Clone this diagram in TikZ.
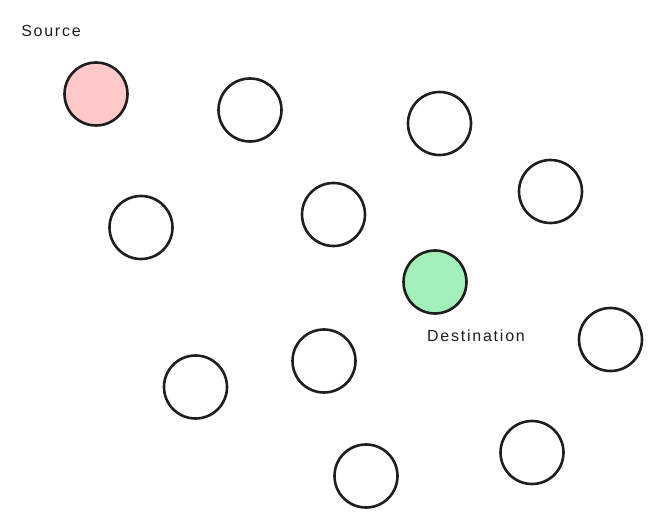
\documentclass[tikz,border=0pt]{standalone}
\usepackage{fontspec}
\setmainfont{Liberation Sans}[LetterSpace=11]
\definecolor{srcred}{HTML}{FFC9C9}
\definecolor{dstgreen}{HTML}{A3EFB9}
\definecolor{ink}{HTML}{1E1E1E}
\begin{document}
\begin{tikzpicture}[x=1pt,y=-1pt,
  nodec/.style={circle,draw=ink,line width=2.6pt,minimum size=63pt,inner sep=0pt,fill=white},
  lbl/.style={text=ink,font=\fontsize{16}{18}\selectfont,inner sep=0pt}]
\useasboundingbox[fill=white] (0,0) rectangle (665,532);
\node[nodec,fill=srcred] (n1) at (96,94) {};
\node[nodec] (n2) at (250,110) {};
\node[nodec] (n3) at (439.5,123.5) {};
\node[nodec] (n4) at (550.5,191.5) {};
\node[nodec] (n5) at (141,227.5) {};
\node[nodec] (n6) at (333.5,214.5) {};
\node[nodec,fill=dstgreen] (n7) at (435,282) {};
\node[nodec] (n8) at (610.5,339.5) {};
\node[nodec] (n9) at (195.5,387) {};
\node[nodec] (n10) at (324,361) {};
\node[nodec] (n11) at (532,452.5) {};
\node[nodec] (n12) at (366,476) {};
\node[lbl] (src) at (51,31) {Source};
\node[lbl] (dst) at (476,336) {Destination};
\end{tikzpicture}
\end{document}
